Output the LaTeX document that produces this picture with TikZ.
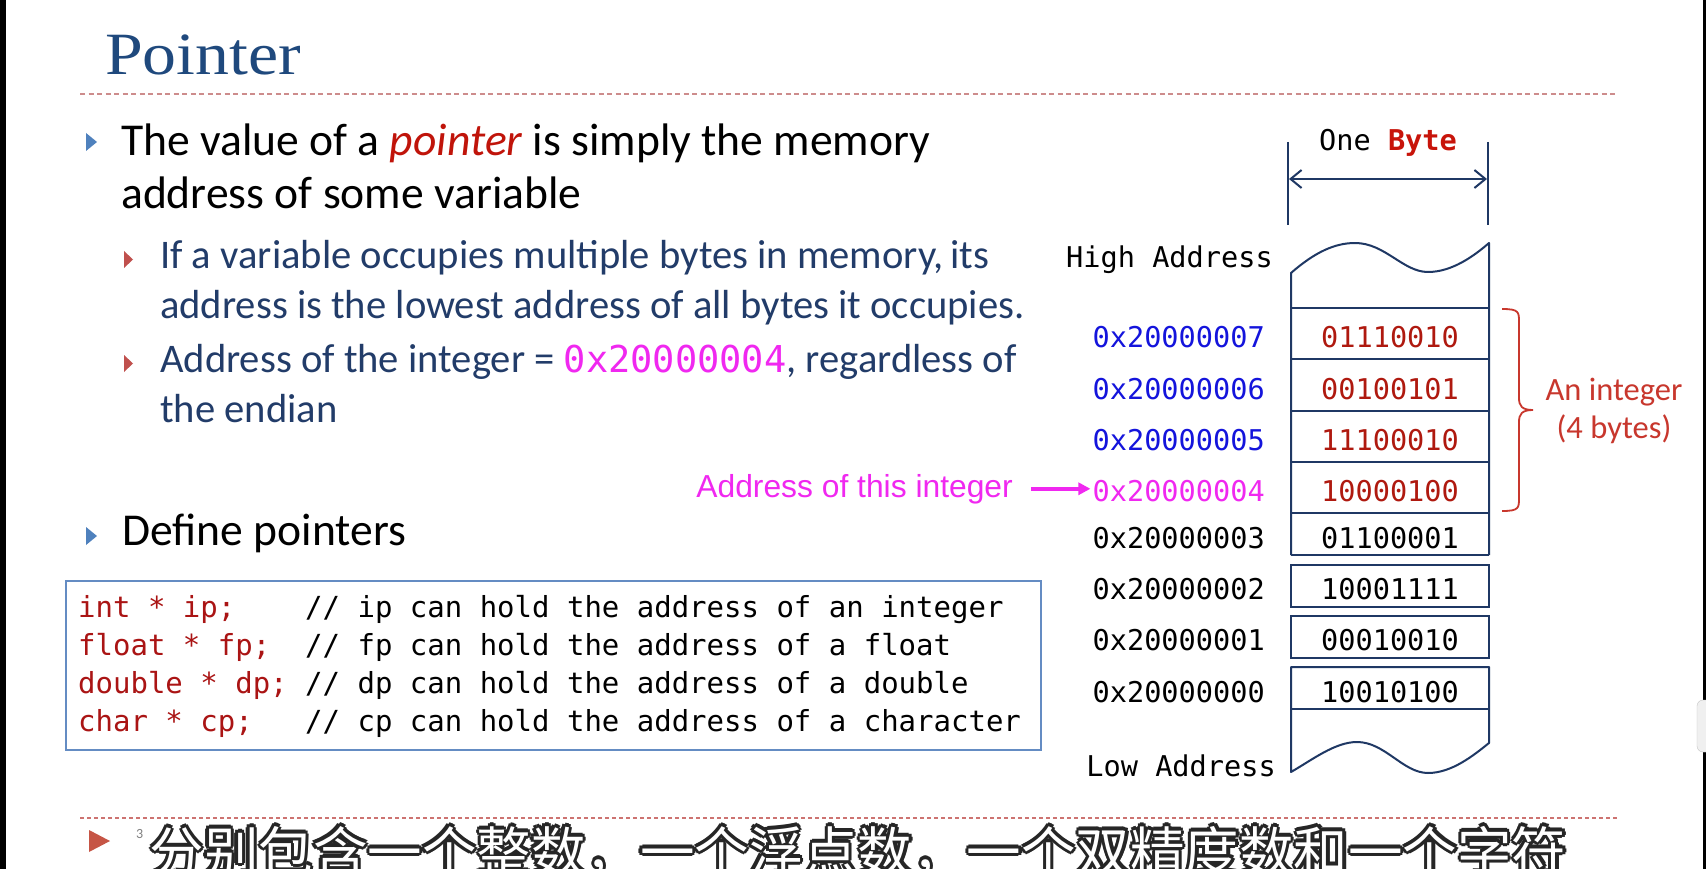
\documentclass[tikz,border=0pt]{standalone}
\usepackage{fontspec}
\usepackage{graphicx}
\setmainfont{Carlito}
\setmonofont{DejaVu Sans Mono}
\newfontfamily\titlefont{Liberation Serif}
\newfontfamily\arialfont{Liberation Sans}
\newfontfamily\cjk{Noto Sans CJK SC}
\usetikzlibrary{arrows.meta}
\newcommand{\fsz}[1]{\fontsize{#1}{#1}\selectfont}
\definecolor{titleblue}{RGB}{31,73,125}
\definecolor{navytext}{RGB}{34,60,105}
\definecolor{ptrred}{RGB}{192,20,10}
\definecolor{codered}{RGB}{170,20,20}
\definecolor{valred}{RGB}{175,25,15}
\definecolor{bytered}{RGB}{200,20,10}
\definecolor{bracered}{RGB}{200,55,45}
\definecolor{bulletblue}{RGB}{79,129,189}
\definecolor{bulletred}{RGB}{192,80,77}
\definecolor{dashred}{RGB}{205,140,140}
\definecolor{mag}{RGB}{240,40,240}
\definecolor{addrblue}{RGB}{20,20,220}
\definecolor{colline}{RGB}{31,56,100}
\definecolor{codeframe}{RGB}{100,140,195}
\tikzset{
  txt/.style={inner sep=0pt, anchor=base west},
  mono/.style={inner sep=0pt, font=\ttfamily\fsz{28.6}},
  colstroke/.style={draw=colline, line width=2pt},
  magarrow/.style={draw=mag, line width=3.5pt, -{Triangle[length=12pt,width=12pt]}},
  sepline/.style={draw=dashred, line width=1.6pt, dash pattern=on 5pt off 3.5pt},
}
\begin{document}
\begin{tikzpicture}[x=1pt,y=-1pt]
\useasboundingbox (0,0) rectangle (1706,869);
\fill[white] (0,0) rectangle (1706,869);
\fill[black] (0,0) rectangle (6,869);
\fill[black] (1703,0) rectangle (1706,869);
\filldraw[fill=gray!12, draw=gray!45, rounded corners=6pt] (1697,700) rectangle (1715,752);

% title and separators
\node[txt, text=titleblue, font=\titlefont\fsz{60}] (title) at (105,75) {\scalebox{1.13}[1]{Pointer}};
\draw[sepline] (80,94) -- (1618,94);
\draw[sepline, dash pattern=on 4pt off 3pt, draw=bulletred!80] (80,818) -- (1618,818);

% bullets
\fill[bulletblue] (86,133) -- (97,142) -- (86,151) -- cycle;
\fill[bulletred] (124,251) -- (133,259.5) -- (124,268) -- cycle;
\fill[bulletred] (124,355) -- (133,363.5) -- (124,372) -- cycle;
\fill[bulletblue] (86,527) -- (97,536) -- (86,545) -- cycle;

\node[txt, font=\fsz{45.6}] (l1a) at (121,156) {The value of a \textcolor{ptrred}{\itshape pointer} is simply the memory};
\node[txt, font=\fsz{45.6}] (l1b) at (121,209) {address of some variable};
\node[txt, text=navytext, font=\fsz{40.6}] (l2a) at (160,269) {If a variable occupies multiple bytes in memory,\,its};
\node[txt, text=navytext, font=\fsz{40.6}] (l2b) at (160,318) {address is the lowest address of all bytes it occupies.};
\node[txt, text=navytext, font=\fsz{40.6}] (l2c) at (160,372) {Address of the integer = \textcolor{mag}{\ttfamily\fsz{37}0x20000004}, regardless of};
\node[txt, text=navytext, font=\fsz{40.6}] (l2d) at (160,422) {the endian};
\node[txt, font=\fsz{45.6}] (def) at (122,545) {Define pointers};

% code box
\node[draw=codeframe, line width=2pt, inner sep=0pt, minimum width=975pt, minimum height=169pt, anchor=north west] (codebox) at (65,580) {};
\node[txt, font=\ttfamily\fsz{29}] (c1) at (78,617) {\textcolor{codered}{int * ip;}~~~~// ip can hold the address of an integer};
\node[txt, font=\ttfamily\fsz{29}] (c2) at (78,655) {\textcolor{codered}{float * fp;}~~// fp can hold the address of a float};
\node[txt, font=\ttfamily\fsz{29}] (c3) at (78,693) {\textcolor{codered}{double * dp;}~// dp can hold the address of a double};
\node[txt, font=\ttfamily\fsz{29}] (c4) at (78,731) {\textcolor{codered}{char * cp;}~~~// cp can hold the address of a character};

% One Byte dimension
\node[mono, anchor=base] (onebyte) at (1388,151) {One \textcolor{bytered}{\bfseries Byte}};
\draw[colstroke] (1288,142) -- (1288,225);
\draw[colstroke] (1488,142) -- (1488,225);
\draw[colstroke, {Straight Barb[length=11pt,width=18pt]}-{Straight Barb[length=11pt,width=18pt]}] (1289,179) -- (1487,179);

% memory column (upper part)
\draw[colstroke, line join=round] (1291,555) -- (1291,273)
  .. controls (1315,252) and (1335,243) .. (1355,243)
  .. controls (1385,243) and (1403,272) .. (1428,272)
  .. controls (1452,272) and (1474,256) .. (1489,243) -- (1489,555);
\foreach \yy in {308,359.3,410.6,461.9,513.2,555} \draw[colstroke] (1291,\yy) -- (1489,\yy);
\draw[colstroke] (1291,564.5) rectangle (1489,606.5);
\draw[colstroke] (1291,615.8) rectangle (1489,657.8);
% bottom part
\draw[colstroke, line join=round] (1291,667) -- (1291,772)
  .. controls (1312,760) and (1335,742) .. (1357,742)
  .. controls (1385,742) and (1403,773) .. (1428,773)
  .. controls (1452,773) and (1474,755) .. (1489,743) -- (1489,667) -- cycle;
\draw[colstroke] (1291,709) -- (1489,709);

\node[mono, anchor=base east] (hi) at (1273,268) {High Address};
\node[mono, anchor=base east] (lo) at (1276,776) {Low Address};

\foreach \n/\bl/\ac/\vc/\val in {7/347.7/addrblue/valred/01110010, 6/399/addrblue/valred/00100101, 5/450.3/addrblue/valred/11100010, 4/501.6/mag/valred/10000100, 3/548.1/black/black/01100001, 2/599.5/black/black/10001111, 1/650.8/black/black/00010010, 0/702/black/black/10010100}{
  \node[mono, anchor=base east, text=\ac] (a\n) at (1265,\bl) {0x2000000\n};
  \node[mono, anchor=base, text=\vc] (v\n) at (1390,\bl) {\val};
}

% brace
\draw[draw=bracered, line width=1.8pt] (1502,309) .. controls (1519,309) and (1519,312) .. (1519,322) -- (1519,398)
  .. controls (1519,406) and (1522,410) .. (1533,410)
  .. controls (1522,410) and (1519,414) .. (1519,422) -- (1519,498)
  .. controls (1519,508) and (1519,511) .. (1502,511);
\node[inner sep=0pt, anchor=base, text=bracered, font=\fsz{32.5}] (int1) at (1614,400) {An integer};
\node[inner sep=0pt, anchor=base, text=bracered, font=\fsz{32.5}] (int2) at (1614,438) {(4 bytes)};

% address label and arrow
\node[inner sep=0pt, anchor=base east, text=mag, font=\arialfont\fsz{31.8}] (lbl) at (1013,497) {Address of this integer};
\draw[magarrow] ([xshift=18pt]lbl.east) -- ([xshift=-2pt]lbl.east -| a4.west);

% footer
\fill[bulletred!90!orange] (89,830) -- (110,841) -- (89,852) -- cycle;
\node[txt, text=gray, font=\fsz{14}] (pnum) at (136,838) {3};
\begin{scope}
\clip (0,0) rectangle (1706,869);
\foreach \dx/\dy in {3.2/0,-3.2/0,0/3.2,0/-3.2,2.3/2.3,-2.3/2.3,2.3/-2.3,-2.3/-2.3}{
  \node[inner sep=0pt, anchor=base, text=black!85, font=\cjk\fsz{54.5}] at (858+\dx,872+\dy) {分别包含一个整数，一个浮点数，一个双精度数和一个字符};
}
\node[inner sep=0pt, anchor=base, text=white, font=\cjk\fsz{54.5}] (sub) at (858,872) {分别包含一个整数，一个浮点数，一个双精度数和一个字符};
\end{scope}
\end{tikzpicture}
\end{document}
